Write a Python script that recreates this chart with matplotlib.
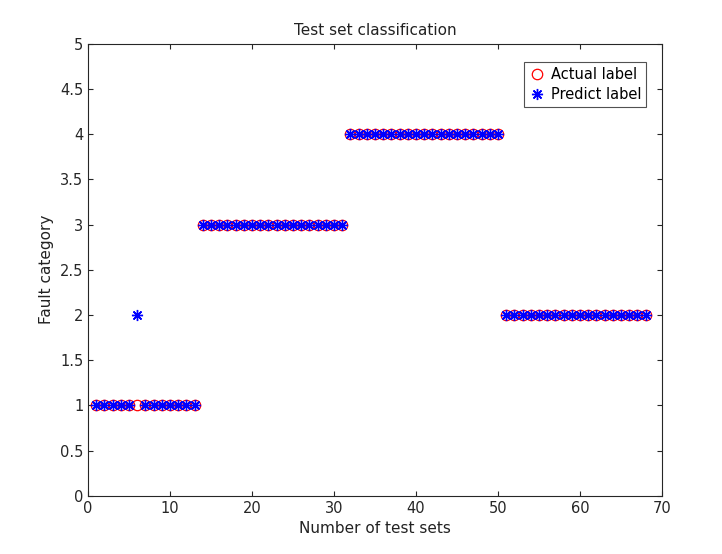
import numpy as np
import matplotlib.pyplot as plt

# actual / predicted fault category for each test sample
actual_label = [1] * 13 + [3] * 18 + [4] * 19 + [2] * 18
predict_label = list(actual_label)
predict_label[5] = 2  # sample 6 misclassified

test_idx = np.arange(1, len(actual_label) + 1)

fig = plt.figure(figsize=(7.22, 5.54), dpi=100)
ax = fig.add_axes([0.122, 0.105, 0.795, 0.816])

ax.plot(test_idx, actual_label, 'o', mfc='none', mec='red', ms=7.5, mew=0.9, label='Actual label')
ax.plot(test_idx, predict_label, marker=(8, 2, 0), ls='none', color='blue', ms=8, mew=1.0,
        label='Predict label')

ax.set_xlim(0, 70)
ax.set_ylim(0, 5)
ax.set_xticks(np.arange(0, 71, 10))
ax.set_yticks(np.arange(0, 5.01, 0.5))
ax.set_yticklabels(['0', '0.5', '1', '1.5', '2', '2.5', '3', '3.5', '4', '4.5', '5'])
ax.tick_params(direction='in', labelsize=10.5, colors='#262626', top=True, right=True)
for s in ax.spines.values():
    s.set_color('#262626')
    s.set_linewidth(0.8)

ax.set_title('Test set classification', fontsize=11, color='#222222')
ax.set_xlabel('Number of test sets', fontsize=11, color='#222222')
ax.set_ylabel('Fault category', fontsize=11, color='#222222')

leg = ax.legend(loc='upper right', fontsize=10.5, fancybox=False, edgecolor='#262626',
                handletextpad=0.3, handlelength=1.2, borderpad=0.35, labelspacing=0.3,
                bbox_to_anchor=(0.985, 0.975))
leg.get_frame().set_linewidth(0.8)

fig.savefig('out.png', dpi=100, facecolor='white')
